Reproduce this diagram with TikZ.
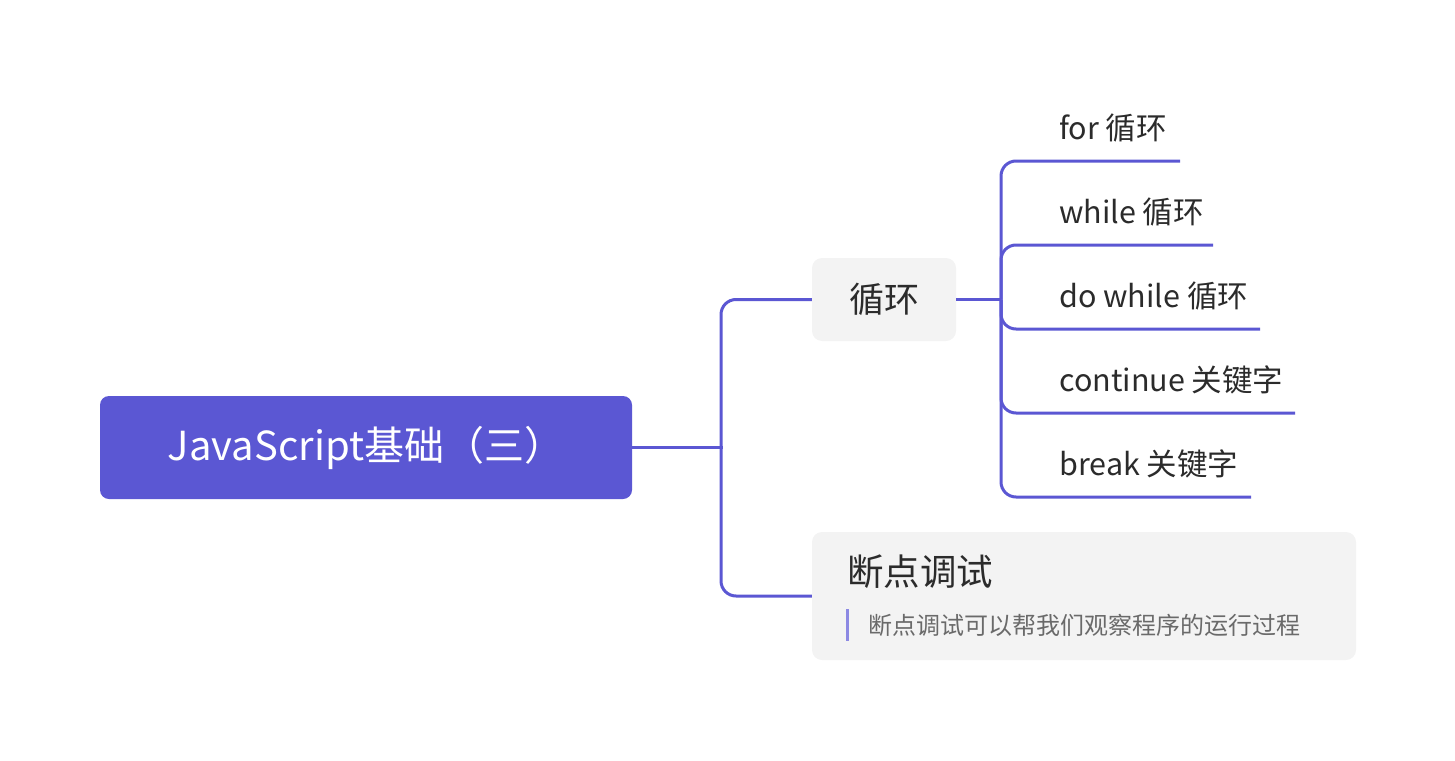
\documentclass[tikz,border=0pt]{standalone}
\usepackage{fontspec}
\setmainfont{Noto Sans CJK SC}
\usetikzlibrary{positioning}
\definecolor{lila}{HTML}{5B57D3}
\definecolor{hell}{HTML}{F3F3F3}
\definecolor{balken}{HTML}{8C89E3}
\definecolor{schrift}{HTML}{2B2B2B}
\definecolor{notiz}{HTML}{6A6A6A}
\tikzset{
    ast/.style={draw=lila, line width=3pt, rounded corners=15pt},
    thema/.style={fill=hell, rounded corners=10pt, text=schrift, font=\fontsize{35}{40}\selectfont},
    blatt/.style={text=schrift, font=\fontsize{30.5}{36}\selectfont, anchor=west, inner sep=0pt}
}
\begin{document}
\begin{tikzpicture}[x=1pt, y=-1pt]
        \useasboundingbox (0,0) rectangle (1455,760);
        % Knoten
        \node[fill=lila, rounded corners=9pt, minimum width=532pt, minimum height=103pt,
            text=white, font=\fontsize{40}{46}\selectfont] (root) at (366,447.5) {JavaScript基础（三）};
        \node[thema, minimum width=144pt, minimum height=83pt] (loop) at (884,299.5) {循环};
        \node[thema, minimum width=544pt, minimum height=128pt] (debug) at (1084,596) {};
        \node[thema, fill=none, anchor=west, inner sep=0pt, font=\fontsize{36.5}{42}\selectfont] (debugtitel) at (847,572) {断点调试};
        \node[anchor=west, inner sep=0pt, text=notiz, font=\fontsize{24}{28}\selectfont] (debugnotiz) at (868,625) {断点调试可以帮我们观察程序的运行过程};
        \draw[balken, line width=3.5pt] (847.5,609) -- (847.5,641);
        % Verbindungen
        \coordinate (gabel) at (721,447.5);
        \coordinate (knoten) at (1001,299.5);
        \draw[lila, line width=3pt] (root.east) -- ([xshift=1.5pt]gabel);
        \draw[ast] (gabel) |- (loop.west);
        \draw[ast] (gabel) |- (debug.west);
        \draw[ast] (loop.east) -- (knoten);
        % Blaetter
        \foreach \name/\y/\xe/\txt in {for/161/1180/for 循环, while/245/1213/while 循环,
            dowhile/329/1260/do while 循环, continue/413/1295/continue 关键字, break/497/1251/break 关键字}
        {
            \node[blatt] (\name) at (1059,\y-33) {\txt};
            \coordinate (\name-e) at (\xe,\y);
            \draw[ast] (knoten) |- (\name-e);
        }
\end{tikzpicture}
\end{document}
